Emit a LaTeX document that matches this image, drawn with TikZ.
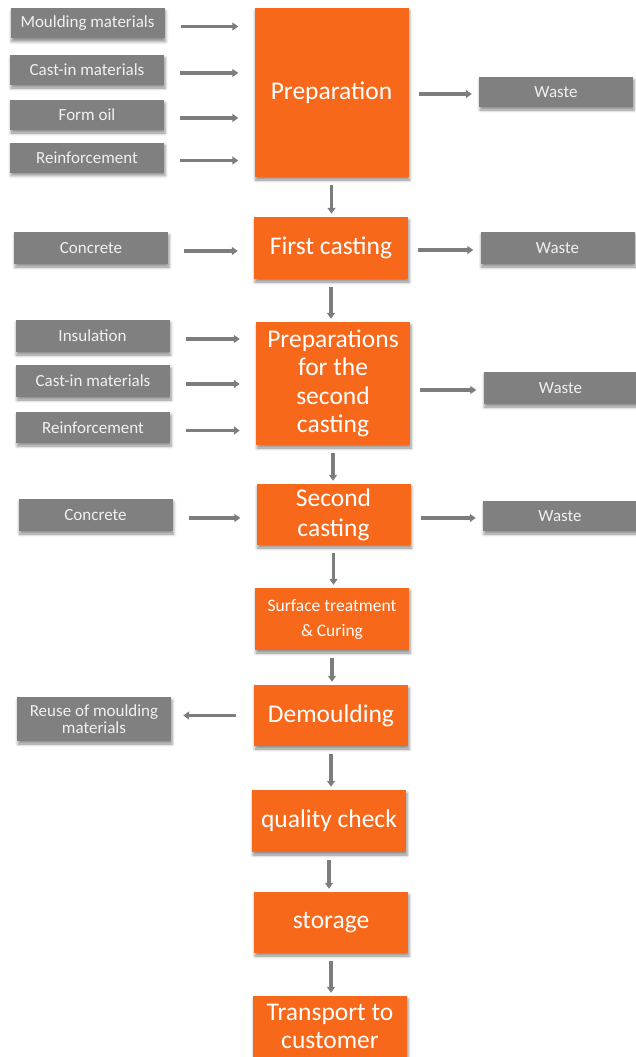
\documentclass[tikz,border=0pt]{standalone}
\usepackage{fontspec}
\setmainfont{Carlito}
\usetikzlibrary{arrows.meta,shadows.blur}
\definecolor{pcorange}{RGB}{247,104,26}
\definecolor{pcgrey}{RGB}{128,128,128}
\definecolor{pcarrow}{RGB}{125,125,125}

\begin{document}
\begin{tikzpicture}[x=1pt, y=-1pt,
    stage/.style={fill=pcorange, text=white, align=center, minimum width=154pt, inner sep=0pt,
        font=\fontsize{25.5}{28.5}\selectfont,
        blur shadow={shadow xshift=1pt, shadow yshift=-3pt, shadow blur radius=3pt, shadow opacity=45}},
    item/.style={fill=pcgrey, text=white!94!black, align=center, minimum width=154pt, inner sep=0pt,
        font=\fontsize{17}{17}\selectfont,
        blur shadow={shadow xshift=1pt, shadow yshift=-3pt, shadow blur radius=3pt, shadow opacity=45}},
    flow/.style={pcarrow, line width=3.3pt, -{Triangle[length=6pt, width=8pt]},
        shorten <=16pt, shorten >=16pt},
    down/.style={flow, shorten <=8pt, shorten >=3pt}]
    \useasboundingbox (0,0) rectangle (636,1057);
    % process chain
    \node[stage, minimum height=169pt] (prep) at (331.5,92.5) {Preparation};
    \node[stage, minimum height=62pt] (first) at (331,248) {First casting};
    \node[stage, minimum height=123pt] (prepb) at (333,383.5) {Preparations\\for the\\second\\casting};
    \node[stage, minimum height=61pt, font=\fontsize{25.5}{30}\selectfont] (second) at (333.5,514.5) {Second\\casting};
    \node[stage, minimum height=62pt, font=\fontsize{17.5}{25}\selectfont] (cure) at (332,619) {Surface treatment\\\& Curing};
    \node[stage, minimum height=61pt] (demould) at (331,715.5) {Demoulding};
    \node[stage, minimum height=62pt] (check) at (329,821) {quality check};
    \node[stage, minimum height=61pt] (store) at (331,922.5) {storage};
    \node[stage, minimum height=61pt] (ship) at (330,1026.5) {Transport to\\customer};
    % inputs
    \node[item, minimum height=30pt] (mould) at (87.5,23.5) {Moulding materials};
    \node[item, minimum height=30pt] (castA) at (87,70) {Cast-in materials};
    \node[item, minimum height=30pt] (oil) at (87,115) {Form oil};
    \node[item, minimum height=30pt] (reinfA) at (87,157.5) {Reinforcement};
    \node[item, minimum height=32pt] (concA) at (91,248) {Concrete};
    \node[item, minimum height=32pt] (insul) at (92.5,336) {Insulation};
    \node[item, minimum height=32pt] (castB) at (93,381) {Cast-in materials};
    \node[item, minimum height=31pt] (reinfB) at (93,427.5) {Reinforcement};
    \node[item, minimum height=32pt] (concB) at (95.5,515) {Concrete};
    \node[item, minimum height=44pt] (reuse) at (94,719) {Reuse of moulding\\materials};
    % waste
    \node[item, minimum height=30pt] (wasteA) at (556,92) {Waste};
    \node[item, minimum height=32pt] (wasteB) at (557.5,248) {Waste};
    \node[item, minimum height=32pt] (wasteC) at (560.5,388) {Waste};
    \node[item, minimum height=30pt] (wasteD) at (560,516) {Waste};
    % connectors
    \foreach \a/\b in {prep/first, first/prepb, prepb/second, second/cure, cure/demould,
                       demould/check, check/store, store/ship}
        \draw[down] (\a.south) -- (\a.south |- \b.north);
    \foreach \a/\b in {mould/prep, castA/prep, oil/prep, reinfA/prep, concA/first,
                       insul/prepb, castB/prepb, reinfB/prepb, concB/second}
        \draw[flow] ([yshift=-3pt]\a.east) -- ([yshift=-3pt]\a.east -| \b.west);
    \foreach \a/\b in {prep/wasteA, first/wasteB, prepb/wasteC, second/wasteD}
        \draw[flow, shorten <=10pt, shorten >=7pt] ([yshift=-2pt]\a.east |- \b) -- ([yshift=-2pt]\b.west);
    \draw[flow, shorten <=18pt, shorten >=12pt] (demould) -- (demould -| reuse.east);
\end{tikzpicture}
\end{document}
